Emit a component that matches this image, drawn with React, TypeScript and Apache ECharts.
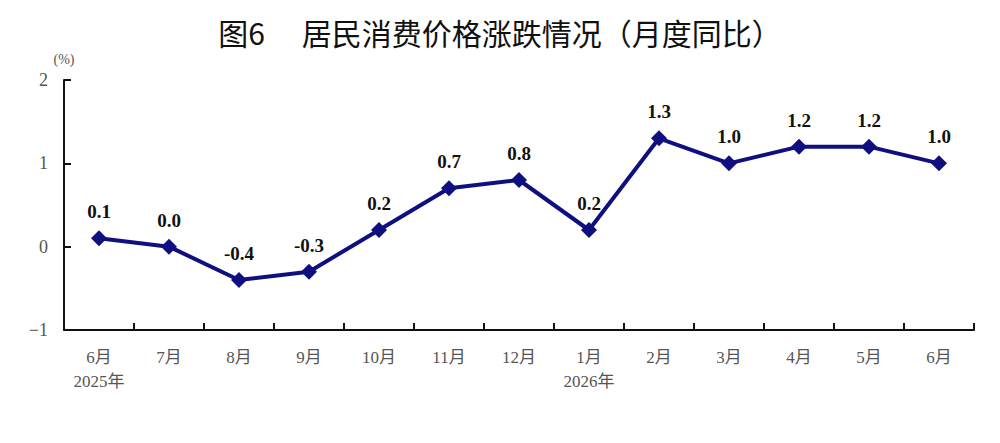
import React, { useEffect, useRef } from "react";
import * as echarts from "echarts";

const categories = ["6月\n2025年", "7月", "8月", "9月", "10月", "11月", "12月", "1月\n2026年", "2月", "3月", "4月", "5月", "6月"];
const cpiValues = [0.1, 0.0, -0.4, -0.3, 0.2, 0.7, 0.8, 0.2, 1.3, 1.0, 1.2, 1.2, 1.0];
const titleText = "图6　 居民消费价格涨跌情况（月度同比）";

export default function App() {
  const ref = useRef<HTMLDivElement>(null);
  useEffect(() => {
    const chart = echarts.init(ref.current!, null, { renderer: "svg" });
    const serif = "'Liberation Serif', 'Times New Roman', 'Noto Sans CJK SC', serif";
    chart.setOption({
      animation: false,
      backgroundColor: "#fff",
      title: {
        text: titleText,
        left: 495,
        textAlign: "center",
        top: 12,
        textStyle: { fontFamily: "'Noto Sans CJK SC', sans-serif", fontSize: 30, fontWeight: "normal", color: "#111" },
      },
      grid: { left: 64, right: 26, top: 80, bottom: 113 },
      xAxis: {
        type: "category",
        data: categories,
        boundaryGap: true,
        axisLine: { onZero: false, lineStyle: { color: "#111", width: 2 } },
        axisTick: { show: true, inside: true, length: 7, lineStyle: { color: "#111", width: 2 } },
        axisLabel: { color: "#555", fontFamily: serif, fontSize: 17, margin: 15, lineHeight: 24 },
      },
      yAxis: {
        type: "value",
        min: -1,
        max: 2,
        interval: 1,
        name: "(%)",
        nameLocation: "end",
        nameGap: 14,
        nameTextStyle: { color: "#555", fontFamily: serif, fontSize: 14, align: "center" },
        splitLine: { show: false },
        axisLine: { show: true, lineStyle: { color: "#111", width: 2 } },
        axisTick: { show: true, inside: true, length: 7, lineStyle: { color: "#111", width: 2 } },
        axisLabel: {
          color: "#555",
          fontFamily: serif,
          fontSize: 18,
          margin: 16,
          formatter: (v: number) => String(v).replace("-", "−"),
        },
      },
      series: [
        {
          type: "line",
          data: cpiValues,
          symbol: "diamond",
          symbolSize: 16,
          lineStyle: { color: "#0f0f80", width: 4 },
          itemStyle: { color: "#0f0f80" },
          label: {
            show: true,
            position: "top",
            distance: 9,
            formatter: (p: any) => Number(p.value).toFixed(1),
            color: "#111",
            fontFamily: serif,
            fontWeight: "bold",
            fontSize: 19,
          },
        },
      ],
    });
    return () => chart.dispose();
  }, []);
  return <div ref={ref} style={{ position: "fixed", left: 0, top: 0, width: 1000, height: 443 }} />;
}
